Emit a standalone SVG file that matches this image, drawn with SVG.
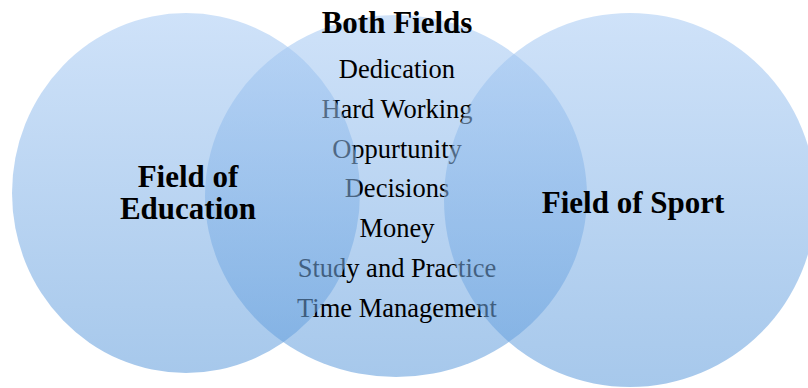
<svg xmlns="http://www.w3.org/2000/svg" width="808" height="388" viewBox="0 0 808 388">
  <defs>
    <linearGradient id="blueFill" x1="0" y1="0" x2="0" y2="1">
      <stop offset="0" stop-color="#a9cbf4"/>
      <stop offset="1" stop-color="#619ddc"/>
    </linearGradient>
    <style>
      .set { fill: url(#blueFill); fill-opacity: 0.56; stroke: none; }
      .label { font-family: "Liberation Serif", "Times New Roman", serif; font-weight: bold; font-size: 31px; fill: #000; text-anchor: middle; }
      .item { font-family: "Liberation Serif", "Times New Roman", serif; font-size: 26.5px; fill: #000; text-anchor: middle; }
    </style>
  </defs>
  <rect width="808" height="388" fill="#ffffff"/>

  <g id="both-fields">
    <ellipse class="set" cx="396" cy="196" rx="191" ry="181"/>
    <text class="label" x="397" y="33">Both Fields</text>
    <g id="shared-items">
      <text class="item" x="397" y="78">Dedication</text>
      <text class="item" x="397" y="118">Hard Working</text>
      <text class="item" x="397" y="158">Oppurtunity</text>
      <text class="item" x="397" y="197">Decisions</text>
      <text class="item" x="397" y="237">Money</text>
      <text class="item" x="397" y="277">Study and Practice</text>
      <text class="item" x="397" y="317">Time Management</text>
    </g>
  </g>

  <g id="field-of-education">
    <ellipse class="set" cx="186" cy="193" rx="174" ry="180"/>
  </g>

  <g id="field-of-sport">
    <ellipse class="set" cx="630" cy="200" rx="186" ry="187"/>
  </g>

  <g id="labels">
    <text class="label" x="188" y="187">Field of</text>
    <text class="label" x="188" y="219">Education</text>
    <text class="label" x="633" y="213" font-size="31.5">Field of Sport</text>
  </g>

  <g id="connectors"/>
</svg>
